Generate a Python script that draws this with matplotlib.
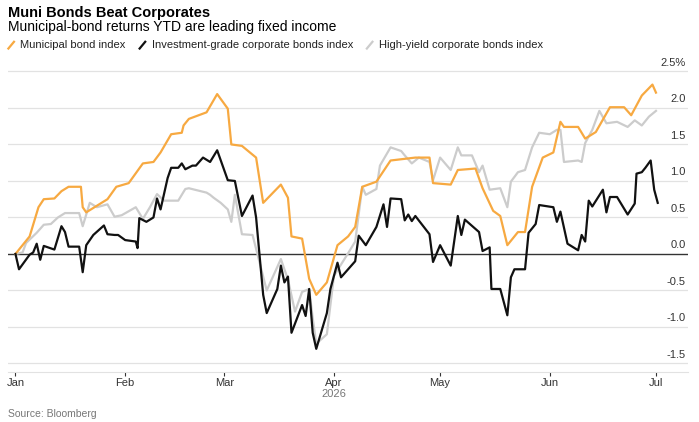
import matplotlib.pyplot as plt
import pandas as pd

start = pd.Timestamp("2026-01-01")

muni_days = [0, 4, 6.5, 8, 11, 13, 15, 18.5, 19, 20, 26, 28.5, 32, 36, 39, 41, 44, 47, 47.5, 49, 54, 57, 60,
             61, 64, 68, 70, 75, 77, 78, 81, 83, 85, 88, 91, 94, 96, 98, 102, 106, 113, 117, 118, 123, 125,
             130, 132, 135, 137, 139, 142, 144, 146, 149, 152, 154, 155, 159, 161, 164, 168, 172, 174, 177,
             180, 181]
muni = [0, 0.24, 0.64, 0.75, 0.76, 0.86, 0.92, 0.92, 0.64, 0.57, 0.75, 0.92, 0.97, 1.24, 1.26, 1.39, 1.64,
        1.66, 1.76, 1.85, 1.94, 2.19, 1.99, 1.50, 1.48, 1.32, 0.70, 0.95, 0.77, 0.24, 0.21, -0.34, -0.56,
        -0.39, 0.12, 0.24, 0.37, 0.92, 0.99, 1.28, 1.32, 1.32, 0.97, 0.95, 1.15, 1.17, 0.90, 0.59, 0.52,
        0.12, 0.30, 0.30, 0.92, 1.32, 1.39, 1.81, 1.74, 1.74, 1.58, 1.67, 2.01, 2.01, 1.90, 2.17, 2.32, 2.21]

ig_days = [0, 1, 4, 5, 6, 7, 8, 11, 13, 14, 15, 18, 19, 20, 22, 25, 26, 28, 29, 31, 34, 34.5, 35, 37, 39,
           40, 41, 43, 44, 46, 47, 48, 50, 51, 53, 55, 57, 60, 62, 64, 67, 68, 70, 71, 74, 75, 76, 77, 78,
           81, 82, 83, 84, 85, 88, 89, 91, 92, 96, 97, 99, 102, 104, 105, 106, 109, 110, 111, 112, 113,
           117, 118, 120, 123, 125, 126, 127, 131, 132, 134, 134.5, 137, 139, 140, 141, 144, 145, 147,
           148, 152, 153, 154, 156, 159, 160, 161, 162, 163, 166, 167, 168, 170, 173, 175, 175.5, 177,
           178, 179.5, 180.5, 181.5]
ig = [0, -0.21, -0.01, 0.02, 0.14, -0.08, 0.11, 0.06, 0.38, 0.30, 0.10, 0.10, -0.25, 0.12, 0.26, 0.39,
      0.27, 0.26, 0.26, 0.19, 0.17, 0.08, 0.49, 0.44, 0.50, 0.76, 0.61, 1.04, 1.18, 1.18, 1.24, 1.16, 1.21,
      1.21, 1.32, 1.26, 1.42, 1.01, 1.00, 0.52, 0.80, 0.50, -0.56, -0.81, -0.48, -0.16, -0.39, -0.31,
      -1.08, -0.70, -0.85, -0.48, -1.08, -1.30, -0.81, -0.48, -0.12, -0.32, -0.10, 0.25, 0.12, 0.37,
      0.68, 0.37, 0.76, 0.75, 0.46, 0.54, 0.45, 0.52, 0.27, -0.11, 0.12, -0.16, 0.52, 0.26, 0.47, 0.30,
      0.04, 0.09, -0.48, -0.48, -0.84, -0.32, -0.21, -0.21, 0.29, 0.41, 0.67, 0.64, 0.44, 0.58, 0.14,
      0.05, 0.26, 0.17, 0.73, 0.65, 0.88, 0.57, 0.78, 0.78, 0.54, 0.69, 1.10, 1.12, 1.18, 1.28, 0.88, 0.70]

hy_days = [0, 2, 3, 6, 8, 10, 12, 14, 18, 19, 21, 23, 26, 28, 30, 34, 36, 38, 40, 42, 46, 48, 49, 54, 55,
           56, 58, 60, 61, 62, 64, 67, 71, 75, 77, 79, 81, 83, 84, 85, 88, 90, 94, 96, 98, 99, 102, 103,
           106, 109, 110, 112, 114, 117, 118, 120, 123, 125, 126, 129, 131, 132, 134, 137, 139, 140, 142,
           144, 146, 148, 151, 153, 154, 155, 159, 160, 161, 163, 165, 167, 170, 173, 175, 177, 179, 181]
hy = [0, 0.02, 0.15, 0.29, 0.40, 0.41, 0.50, 0.56, 0.56, 0.38, 0.70, 0.64, 0.68, 0.51, 0.53, 0.64, 0.48,
      0.64, 0.82, 0.73, 0.73, 0.89, 0.90, 0.84, 0.81, 0.77, 0.70, 0.61, 0.44, 0.81, 0.27, 0.26, -0.50,
      -0.07, -0.35, -0.79, -0.52, -0.48, -0.88, -1.23, -1.10, -0.30, 0.01, 0.17, 0.92, 0.81, 0.89, 1.21,
      1.46, 1.41, 1.35, 1.24, 1.32, 1.26, 1.01, 1.32, 1.15, 1.46, 1.35, 1.35, 1.12, 1.21, 0.88, 0.90,
      0.64, 0.99, 1.12, 1.15, 1.46, 1.66, 1.64, 1.70, 1.70, 1.26, 1.28, 1.26, 1.52, 1.70, 1.96, 1.79,
      1.81, 1.74, 1.83, 1.76, 1.88, 1.96]

y_ticks = [-1.5, -1.0, -0.5, 0.0, 0.5, 1.0, 1.5, 2.0, 2.5]
y_labels = ["-1.5", "-1.0", "-0.5", "0.0", "0.5", "1.0", "1.5", "2.0", "2.5%"]
month_labels = ["Jan", "Feb", "Mar", "Apr", "May", "Jun", "Jul"]


def to_dates(days):
    return [start + pd.Timedelta(days=d) for d in days]


plt.rcParams["font.family"] = ["Liberation Sans", "DejaVu Sans"]
fig = plt.figure(figsize=(6.99, 4.22), dpi=100)
ax = fig.add_axes([0.012, 0.118, 0.972, 0.73])

ax.set_ylim(-1.62, 2.6)
ax.set_xlim(start - pd.Timedelta(days=2), start + pd.Timedelta(days=190))

for t, lab in zip(y_ticks, y_labels):
    ax.axhline(t, color="#333333" if t == 0 else "#e2e2e2", lw=1 if t == 0 else 0.9, zorder=1)
    ax.text(0.997, t + 0.05, lab, transform=ax.get_yaxis_transform(), ha="right", va="bottom",
            fontsize=8, color="#333333")

ax.plot(to_dates(hy_days), hy, color="#cccccc", lw=1.6, zorder=2)
ax.plot(to_dates(muni_days), muni, color="#f7a941", lw=1.6, zorder=3)
ax.plot(to_dates(ig_days), ig, color="#111111", lw=1.6, zorder=4)

ax.set_yticks([])
ax.set_xticks([pd.Timestamp(2026, m, 1) for m in range(1, 8)])
ax.set_xticklabels(month_labels, fontsize=8, color="#333333")
ax.tick_params(axis="x", length=3, color="#333333", pad=1)
for s in ["top", "right", "left"]:
    ax.spines[s].set_visible(False)
ax.spines["bottom"].set_color("#e2e2e2")
ax.text(pd.Timestamp(2026, 4, 1), -0.055, "2026", transform=ax.get_xaxis_transform(),
        ha="center", va="top", fontsize=8, color="#777777")

fig.text(0.012, 0.970, "Muni Bonds Beat Corporates", fontsize=10.5, fontweight="bold", va="center")
fig.text(0.012, 0.936, "Municipal-bond returns YTD are leading fixed income", fontsize=10, va="center")

lx = 0.012
for lab, col in [("Municipal bond index", "#f7a941"),
                 ("Investment-grade corporate bonds index", "#111111"),
                 ("High-yield corporate bonds index", "#cccccc")]:
    fig.lines.append(plt.Line2D([lx, lx + 0.008], [0.885, 0.901], color=col, lw=1.6,
                                transform=fig.transFigure))
    t = fig.text(lx + 0.017, 0.893, lab, fontsize=8, va="center", color="#222222")
    fig.canvas.draw()
    lx = t.get_window_extent().x1 / fig.bbox.width + 0.02

fig.text(0.012, 0.02, "Source: Bloomberg", fontsize=7.5, color="#777777", va="center")

fig.savefig("out.png", dpi=100)
